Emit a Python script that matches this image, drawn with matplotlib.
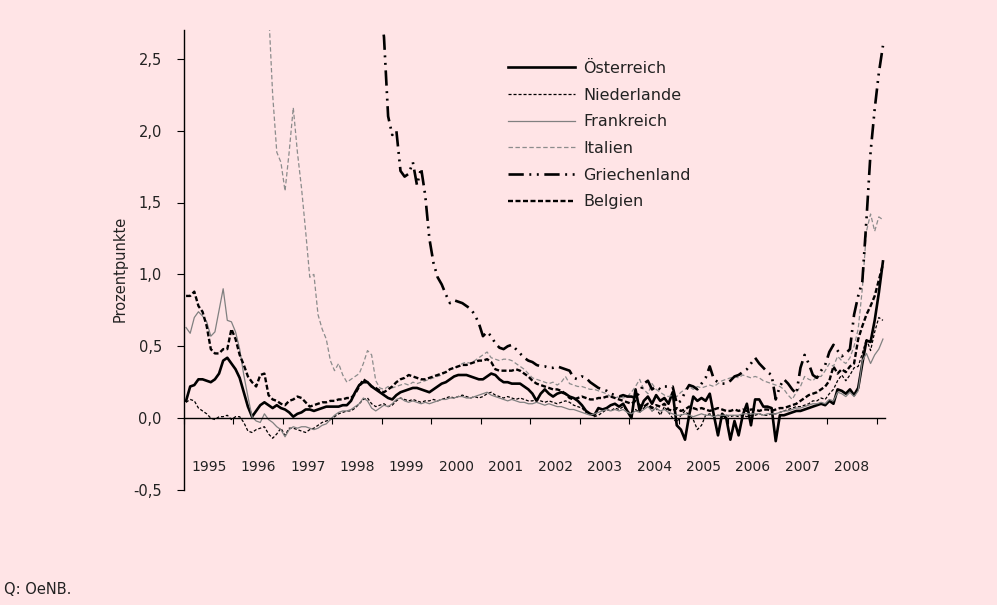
import numpy as np
import matplotlib
matplotlib.use("Agg")
import matplotlib.pyplot as plt

plt.rcParams['font.family'] = ['DejaVu Sans']
plt.rcParams['lines.scale_dashes'] = False

# ---------------- data (monthly, Jan 1995 - Feb 2009) ----------------
years = ['1995', '1996', '1997', '1998', '1999', '2000', '2001',
         '2002', '2003', '2004', '2005', '2006', '2007', '2008']
series_names = ['Österreich', 'Niederlande', 'Frankreich', 'Italien', 'Griechenland', 'Belgien']

oesterreich = [
    0.12, 0.22, 0.23, 0.27, 0.27, 0.26, 0.25, 0.27, 0.31, 0.40, 0.42, 0.38,
    0.34, 0.28, 0.18, 0.08, 0.01, 0.05, 0.09, 0.11, 0.09, 0.07, 0.09, 0.07,
    0.06, 0.04, 0.01, 0.03, 0.04, 0.06, 0.06, 0.05, 0.06, 0.07, 0.08, 0.08,
    0.08, 0.08, 0.09, 0.09, 0.12, 0.18, 0.23, 0.25, 0.25, 0.22, 0.20, 0.18,
    0.16, 0.14, 0.13, 0.16, 0.18, 0.19, 0.20, 0.21, 0.21, 0.20, 0.19, 0.18,
    0.20, 0.22, 0.24, 0.25, 0.27, 0.29, 0.30, 0.30, 0.30, 0.29, 0.28, 0.27,
    0.27, 0.29, 0.31, 0.30, 0.27, 0.25, 0.25, 0.24, 0.24, 0.24, 0.22, 0.20,
    0.17, 0.12, 0.17, 0.20, 0.17, 0.15, 0.17, 0.18, 0.17, 0.15, 0.14, 0.12,
    0.09, 0.05, 0.03, 0.02, 0.07, 0.06, 0.07, 0.09, 0.10, 0.08, 0.10, 0.05,
    0.00, 0.20, 0.05, 0.12, 0.15, 0.10, 0.16, 0.12, 0.14, 0.10, 0.18, -0.05,
    -0.08, -0.15, 0.02, 0.15, 0.12, 0.14, 0.12, 0.17, 0.02, -0.12, 0.03, 0.00,
    -0.15, -0.02, -0.12, 0.02, 0.10, -0.05, 0.13, 0.13, 0.08, 0.08, 0.07, -0.16,
    0.02, 0.02, 0.03, 0.04, 0.05, 0.05, 0.06, 0.07, 0.08, 0.09, 0.10, 0.09,
    0.12, 0.10, 0.20, 0.19, 0.17, 0.20, 0.16, 0.21, 0.38, 0.54, 0.53, 0.68,
    0.87, 1.09]

niederlande = [
    0.11, 0.13, 0.12, 0.07, 0.05, 0.03, 0.00, -0.01, 0.01, 0.01, 0.02, -0.01,
    0.01, 0.01, -0.03, -0.09, -0.10, -0.08, -0.07, -0.06, -0.11, -0.14, -0.11, -0.07,
    -0.12, -0.07, -0.07, -0.08, -0.09, -0.10, -0.08, -0.07, -0.05, -0.03, -0.02, -0.01,
    0.01, 0.03, 0.04, 0.05, 0.05, 0.07, 0.10, 0.13, 0.14, 0.10, 0.08, 0.09,
    0.10, 0.08, 0.09, 0.12, 0.14, 0.13, 0.12, 0.13, 0.12, 0.11, 0.12, 0.12,
    0.13, 0.12, 0.13, 0.14, 0.15, 0.14, 0.15, 0.16, 0.15, 0.14, 0.15, 0.14,
    0.15, 0.17, 0.18, 0.16, 0.15, 0.14, 0.15, 0.14, 0.13, 0.14, 0.13, 0.12,
    0.12, 0.13, 0.12, 0.11, 0.12, 0.11, 0.10, 0.11, 0.12, 0.11, 0.09, 0.08,
    0.07, 0.04, 0.03, 0.01, 0.02, 0.04, 0.06, 0.05, 0.07, 0.06, 0.08, 0.05,
    0.03, 0.06, 0.04, 0.07, 0.10, 0.05, 0.07, 0.02, 0.08, 0.04, 0.00, -0.03,
    0.02, 0.05, 0.02, -0.01, -0.08, -0.05, 0.02, 0.03, 0.01, 0.02, 0.01, 0.02,
    0.01, 0.02, 0.01, 0.02, 0.01, 0.02, 0.02, 0.03, 0.02, 0.02, 0.03, 0.03,
    0.04, 0.05, 0.06, 0.07, 0.08, 0.08, 0.09, 0.10, 0.12, 0.12, 0.14, 0.13,
    0.17, 0.20, 0.26, 0.30, 0.26, 0.30, 0.35, 0.36, 0.45, 0.55, 0.47, 0.60,
    0.70, 0.68]

frankreich = [
    0.63, 0.59, 0.70, 0.74, 0.71, 0.67, 0.57, 0.60, 0.75, 0.90, 0.68, 0.67,
    0.60, 0.48, 0.30, 0.15, 0.01, -0.02, -0.03, 0.03, -0.01, -0.03, -0.06, -0.08,
    -0.13, -0.08, -0.06, -0.07, -0.06, -0.06, -0.07, -0.08, -0.07, -0.05, -0.04, -0.01,
    0.02, 0.04, 0.05, 0.05, 0.06, 0.08, 0.10, 0.14, 0.12, 0.07, 0.05, 0.07,
    0.09, 0.08, 0.10, 0.13, 0.14, 0.12, 0.11, 0.12, 0.11, 0.10, 0.11, 0.10,
    0.11, 0.12, 0.13, 0.13, 0.14, 0.14, 0.15, 0.15, 0.14, 0.14, 0.15, 0.16,
    0.17, 0.18, 0.16, 0.15, 0.14, 0.13, 0.12, 0.13, 0.12, 0.11, 0.11, 0.10,
    0.10, 0.11, 0.10, 0.09, 0.10, 0.09, 0.08, 0.08, 0.07, 0.06, 0.06, 0.05,
    0.04, 0.03, 0.02, 0.03, 0.04, 0.05, 0.06, 0.05, 0.06, 0.05, 0.06, 0.04,
    0.03, 0.05, 0.04, 0.06, 0.08, 0.05, 0.07, 0.05, 0.06, 0.04, 0.03, 0.02,
    0.02, 0.03, 0.02, 0.01, 0.02, 0.03, 0.02, 0.02, 0.01, 0.02, 0.02, 0.02,
    0.02, 0.02, 0.02, 0.03, 0.03, 0.03, 0.03, 0.03, 0.02, 0.03, 0.03, 0.03,
    0.04, 0.05, 0.05, 0.06, 0.07, 0.07, 0.08, 0.09, 0.10, 0.10, 0.11, 0.10,
    0.13, 0.12, 0.18, 0.17, 0.15, 0.18, 0.15, 0.19, 0.40, 0.45, 0.38, 0.44,
    0.48, 0.55]

italien = [
    4.60, 4.80, 5.20, 5.50, 5.30, 5.00, 4.80, 4.90, 4.70, 4.60, 4.40, 4.20,
    4.00, 3.90, 3.60, 3.40, 3.30, 3.10, 3.00, 2.95, 2.85, 2.25, 1.85, 1.78,
    1.58, 1.85, 2.16, 1.85, 1.60, 1.30, 0.98, 1.00, 0.72, 0.62, 0.55, 0.40,
    0.33, 0.38, 0.30, 0.25, 0.27, 0.29, 0.31, 0.38, 0.47, 0.44, 0.26, 0.21,
    0.20, 0.22, 0.21, 0.22, 0.23, 0.24, 0.23, 0.25, 0.24, 0.25, 0.26, 0.27,
    0.28, 0.29, 0.30, 0.32, 0.34, 0.35, 0.36, 0.38, 0.39, 0.38, 0.40, 0.42,
    0.44, 0.46, 0.42, 0.41, 0.40, 0.41, 0.41, 0.40, 0.38, 0.36, 0.34, 0.31,
    0.28, 0.27, 0.26, 0.25, 0.24, 0.25, 0.23, 0.25, 0.29, 0.24, 0.23, 0.22,
    0.22, 0.21, 0.20, 0.20, 0.19, 0.18, 0.17, 0.15, 0.14, 0.15, 0.14, 0.15,
    0.18, 0.22, 0.27, 0.20, 0.17, 0.24, 0.20, 0.18, 0.16, 0.15, 0.16, 0.15,
    0.18, 0.20, 0.22, 0.20, 0.22, 0.21, 0.22, 0.23, 0.22, 0.24, 0.26, 0.27,
    0.28, 0.29, 0.28, 0.30, 0.29, 0.28, 0.29, 0.28, 0.26, 0.25, 0.24, 0.23,
    0.22, 0.20, 0.16, 0.13, 0.18, 0.22, 0.29, 0.27, 0.26, 0.29, 0.29, 0.33,
    0.38, 0.36, 0.43, 0.40, 0.38, 0.42, 0.50, 0.62, 0.90, 1.30, 1.42, 1.30,
    1.40, 1.38]

griechenland = [
    9.50, 9.80, 10.2, 10.0, 9.60, 9.20, 9.00, 8.80, 8.90, 8.70, 8.50, 8.30,
    8.00, 7.60, 7.40, 7.20, 7.00, 6.80, 6.50, 6.30, 6.00, 5.70, 5.40, 5.10,
    4.80, 4.60, 4.50, 4.40, 4.30, 4.10, 4.00, 3.90, 3.80, 4.20, 4.50, 4.60,
    4.30, 4.10, 3.70, 3.50, 3.30, 3.20, 3.10, 3.30, 3.80, 3.50, 3.20, 2.90,
    2.65, 2.10, 1.97, 2.00, 1.72, 1.68, 1.70, 1.78, 1.62, 1.74, 1.55, 1.25,
    1.08, 0.98, 0.93, 0.86, 0.80, 0.82, 0.81, 0.80, 0.78, 0.76, 0.72, 0.66,
    0.57, 0.60, 0.57, 0.52, 0.49, 0.48, 0.50, 0.51, 0.48, 0.45, 0.42, 0.40,
    0.39, 0.37, 0.36, 0.36, 0.35, 0.35, 0.36, 0.35, 0.34, 0.33, 0.28, 0.27,
    0.29, 0.28, 0.25, 0.23, 0.21, 0.20, 0.19, 0.17, 0.16, 0.15, 0.16, 0.15,
    0.15, 0.14, 0.18, 0.24, 0.26, 0.20, 0.22, 0.20, 0.22, 0.22, 0.22, 0.10,
    0.12, 0.18, 0.23, 0.22, 0.20, 0.24, 0.28, 0.36, 0.27, 0.25, 0.24, 0.24,
    0.26, 0.29, 0.30, 0.32, 0.34, 0.38, 0.42, 0.38, 0.35, 0.32, 0.30, 0.13,
    0.22, 0.27, 0.24, 0.20, 0.17, 0.35, 0.44, 0.38, 0.30, 0.28, 0.33, 0.37,
    0.46, 0.51, 0.47, 0.43, 0.45, 0.48, 0.72, 0.85, 0.95, 1.38, 1.85, 2.15,
    2.40, 2.59]

belgien = [
    0.85, 0.85, 0.88, 0.78, 0.74, 0.64, 0.48, 0.45, 0.45, 0.48, 0.48, 0.62,
    0.55, 0.44, 0.37, 0.29, 0.25, 0.22, 0.30, 0.31, 0.16, 0.13, 0.12, 0.10,
    0.09, 0.12, 0.13, 0.15, 0.14, 0.11, 0.08, 0.09, 0.10, 0.11, 0.11, 0.12,
    0.12, 0.13, 0.13, 0.14, 0.14, 0.17, 0.22, 0.27, 0.25, 0.22, 0.21, 0.19,
    0.18, 0.20, 0.22, 0.25, 0.27, 0.28, 0.30, 0.29, 0.28, 0.27, 0.27, 0.28,
    0.29, 0.30, 0.31, 0.32, 0.34, 0.35, 0.36, 0.37, 0.37, 0.38, 0.39, 0.40,
    0.40, 0.41, 0.39, 0.34, 0.33, 0.33, 0.33, 0.33, 0.34, 0.33, 0.31, 0.29,
    0.26, 0.24, 0.23, 0.22, 0.21, 0.20, 0.20, 0.19, 0.17, 0.14, 0.13, 0.14,
    0.15, 0.14, 0.13, 0.13, 0.14, 0.14, 0.15, 0.15, 0.14, 0.13, 0.12, 0.11,
    0.10, 0.12, 0.09, 0.08, 0.10, 0.07, 0.09, 0.08, 0.10, 0.06, 0.05, 0.07,
    0.05, 0.06, 0.08, 0.07, 0.06, 0.07, 0.06, 0.05, 0.06, 0.07, 0.06, 0.05,
    0.05, 0.06, 0.05, 0.06, 0.05, 0.06, 0.06, 0.05, 0.06, 0.06, 0.05, 0.06,
    0.07, 0.07, 0.08, 0.09, 0.10, 0.12, 0.14, 0.16, 0.17, 0.18, 0.20, 0.22,
    0.26, 0.36, 0.31, 0.34, 0.32, 0.36, 0.38, 0.55, 0.64, 0.72, 0.78, 0.85,
    0.96, 1.07]

y_ticks = [-0.5, 0.0, 0.5, 1.0, 1.5, 2.0, 2.5]

# ---------------- figure ----------------
bg = '#FFE4E6'
W, H = 997, 605
fig = plt.figure(figsize=(W / 100, H / 100), dpi=100, facecolor=bg)
ax = fig.add_axes([184 / W, 1 - 490 / H, 701 / W, 460 / H])
ax.set_facecolor(bg)

all_series = [oesterreich, niederlande, frankreich, italien, griechenland, belgien]
for s in all_series:
    assert len(s) == 170

n = len(oesterreich)
x = np.arange(n) + 0.5

styles = [
    dict(color='black', lw=1.9, ls='-'),
    dict(color='black', lw=0.9, ls=(0, (2.2, 1.4))),
    dict(color='#808080', lw=0.9, ls='-'),
    dict(color='#8c8c8c', lw=0.9, ls=(0, (3.2, 1.8))),
    dict(color='black', lw=1.9, ls=(0, (11, 4, 1.4, 4, 1.4, 4))),
    dict(color='black', lw=1.7, ls=(0, (3.6, 1.8))),
]
for name, s, st in zip(series_names, all_series, styles):
    ax.plot(x, s, label=name, color=st['color'], lw=st['lw'], linestyle=st['ls'],
            solid_joinstyle='round')

ax.set_xlim(0, n)
ax.set_ylim(-0.5, 2.7)

for sp in ['top', 'right']:
    ax.spines[sp].set_visible(False)
ax.spines['bottom'].set_position(('data', 0))
ax.spines['bottom'].set_linewidth(1.0)
ax.spines['left'].set_linewidth(1.0)

ax.set_xticks(np.arange(0, n, 12))
ax.set_xticks(np.arange(6, 12 * len(years), 12), minor=True)
ax.set_xticklabels(years, minor=True)
ax.tick_params(axis='x', which='major', direction='out', length=4, width=0.8,
               labelbottom=False)
ax.tick_params(axis='x', which='minor', length=0, pad=30, labelsize=10, colors='#222222')

ax.set_yticks(y_ticks)
ax.set_yticklabels([f"{v:.1f}".replace('.', ',') for v in y_ticks])
ax.tick_params(axis='y', direction='out', length=5, width=0.8, pad=11,
               labelsize=10.5, labelcolor='#222222')

ax.set_ylabel('Prozentpunkte', fontsize=10.5, color='#222222')
ax.yaxis.set_label_coords(-0.080, 0.48)

leg = ax.legend(loc='upper left', bbox_to_anchor=(508 / W, 1 - 61 / H),
                bbox_transform=fig.transFigure, frameon=False, fontsize=11.5,
                handlelength=4.2, handletextpad=0.5, labelspacing=0.73,
                borderpad=0, borderaxespad=0)
for t in leg.get_texts():
    t.set_color('#222222')

fig.text(4 / W, 1 - 590 / H, 'Q: OeNB.', fontsize=10.5, va='center', ha='left',
         color='#222222')

fig.savefig('out.png', dpi=100, facecolor=bg)
